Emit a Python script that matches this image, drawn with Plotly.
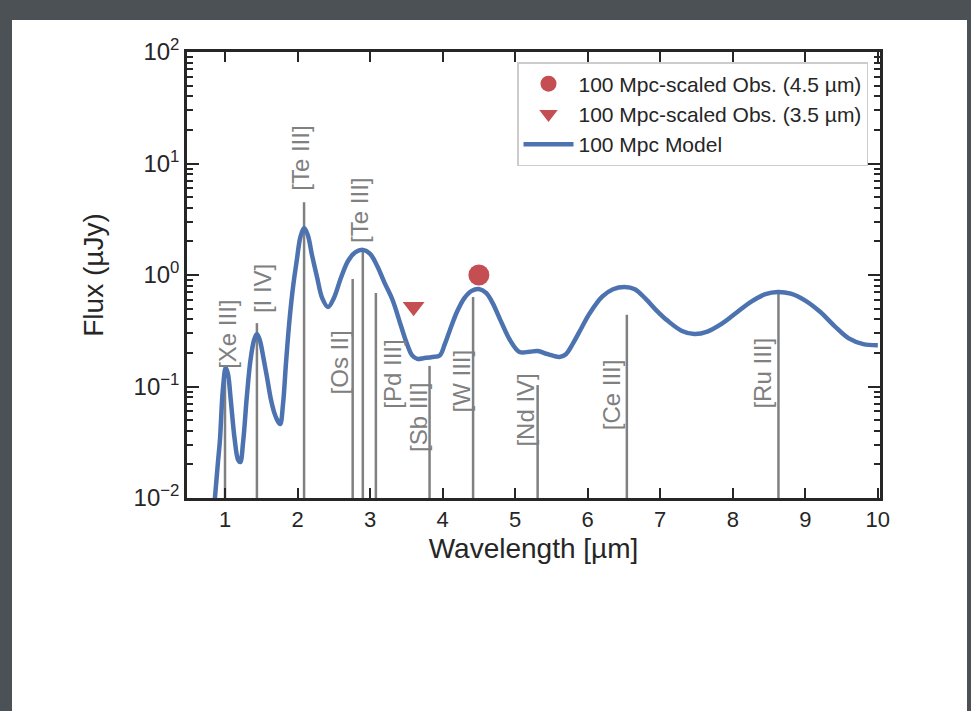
import numpy as np
import plotly.graph_objects as go

# ---------------- data ----------------
model_wl = [0.86, 0.90, 0.93, 0.97, 1.01, 1.04, 1.08, 1.13, 1.18, 1.21, 1.25,
            1.30, 1.35, 1.40, 1.44, 1.48, 1.53, 1.58, 1.63, 1.68, 1.72, 1.76,
            1.80, 1.84, 1.89, 1.94, 1.99, 2.04, 2.09, 2.14, 2.20, 2.27, 2.34,
            2.42, 2.50, 2.60, 2.70, 2.80, 2.90, 3.00, 3.10, 3.20, 3.31, 3.42,
            3.50, 3.58, 3.65, 3.75, 3.86, 3.96, 4.03, 4.10, 4.20, 4.30, 4.40,
            4.50, 4.60, 4.69, 4.80, 4.93, 5.06, 5.20, 5.31, 5.45, 5.61, 5.70,
            5.80, 5.92, 6.03, 6.20, 6.35, 6.51, 6.65, 6.80, 6.95, 7.10, 7.30,
            7.47, 7.65, 7.85, 8.05, 8.25, 8.45, 8.62, 8.80, 9.00, 9.20, 9.40,
            9.60, 9.80, 10.0]
model_flux = [0.0098, 0.02, 0.033, 0.093, 0.147, 0.13, 0.075, 0.035, 0.022, 0.021,
              0.032, 0.08, 0.17, 0.26, 0.296, 0.26, 0.18, 0.12, 0.078, 0.058,
              0.05, 0.046, 0.07, 0.16, 0.4, 0.8, 1.36, 2.2, 2.64, 2.3, 1.5, 0.95,
              0.62, 0.516, 0.62, 0.95, 1.35, 1.6, 1.68, 1.55, 1.2, 0.85, 0.597,
              0.36, 0.25, 0.19, 0.177, 0.18, 0.184, 0.19, 0.24, 0.32, 0.47, 0.62,
              0.72, 0.748, 0.69, 0.56, 0.39, 0.26, 0.204, 0.205, 0.208, 0.195,
              0.184, 0.195, 0.245, 0.34, 0.456, 0.64, 0.745, 0.78, 0.745, 0.61,
              0.48, 0.39, 0.315, 0.296, 0.311, 0.366, 0.459, 0.575, 0.673, 0.705,
              0.68, 0.59, 0.47, 0.35, 0.27, 0.24, 0.235]

obs45_wl = [4.5]
obs45_flux = [1.0]
obs35_wl = [3.6]
obs35_flux = [0.52]

line_names = ["[Xe III]", "[I IV]", "[Te III]", "[Os II]", "[Te III]", "[Pd III]",
              "[Sb III]", "[W III]", "[Nd IV]", "[Ce III]", "[Ru III]"]
line_wl = [1.00, 1.44, 2.09, 2.76, 2.90, 3.08, 3.82, 4.42, 5.31, 6.54, 8.63]
line_top = [0.15, 0.37, 4.5, 0.92, 1.68, 0.69, 0.153, 0.635, 0.103, 0.44, 0.69]
label_x = [1.04, 1.51, 2.03, 2.58, 2.86, 3.31, 3.66, 4.26, 5.13, 6.34, 8.41]
label_y = [0.296, 0.748, 11.2, 0.163, 3.83, 0.129, 0.0532, 0.112, 0.0615, 0.084, 0.132]

y_tickvals = [0.01, 0.1, 1, 10, 100]
y_ticktext = ["10<sup>\u22122</sup>", "10<sup>\u22121</sup>", "10<sup>0</sup>",
              "10<sup>1</sup>", "10<sup>2</sup>"]
x_tickvals = [1, 2, 3, 4, 5, 6, 7, 8, 9, 10]

# ---------------- styles ----------------
FONT = "Liberation Sans, Arial, Helvetica, sans-serif"
TXT = "#262626"
BLUE = "#4c72b0"
RED = "#c44e52"
GRAY = "#808080"
FRAME = "#4c5156"

W, H = 971, 711
L, R, T, B = 187, 91, 52, 213
pw, ph = W - L - R, H - T - B

fig = go.Figure()

# vertical emission-line markers
vx, vy = [], []
for xw, yt in zip(line_wl, line_top):
    vx += [xw, xw, None]
    vy += [0.01, yt, None]
fig.add_trace(go.Scatter(x=vx, y=vy, mode="lines",
                         line=dict(color=GRAY, width=2.5),
                         showlegend=False, hoverinfo="skip"))

fig.add_trace(go.Scatter(x=model_wl, y=model_flux, mode="lines",
                         name="100 Mpc Model", legendrank=3,
                         line=dict(color=BLUE, width=4.5, shape="spline", smoothing=1.0),
                         legendgroup="c"))
fig.add_trace(go.Scatter(x=obs45_wl, y=obs45_flux, mode="markers",
                         name="100 Mpc-scaled Obs. (4.5 \u00b5m)", legendrank=1,
                         marker=dict(symbol="circle", size=21, color=RED),
                         legendgroup="a"))
fig.add_trace(go.Scatter(x=obs35_wl, y=obs35_flux, mode="markers",
                         name="100 Mpc-scaled Obs. (3.5 \u00b5m)", legendrank=2,
                         marker=dict(symbol="triangle-down", size=19, color=RED),
                         legendgroup="b"))

for name, lx, ly in zip(line_names, label_x, label_y):
    fig.add_annotation(x=lx, y=np.log10(ly), text=name, textangle=-90,
                       showarrow=False, xanchor="center", yanchor="middle",
                       font=dict(family=FONT, size=24, color=GRAY))

# dark frame around the white page
fig.add_shape(type="rect", xref="paper", yref="paper", layer="below",
              x0=(12 - L) / pw, x1=(967 - L) / pw,
              y0=-1.0, y1=1 + (T - 20) / ph,
              fillcolor="white", line=dict(width=0))

fig.update_layout(
    width=W, height=H,
    margin=dict(l=L, r=R, t=T, b=B),
    paper_bgcolor=FRAME,
    plot_bgcolor="white",
    font=dict(family=FONT, color=TXT),
    legend=dict(
        x=(868 - L) / pw, xanchor="right",
        y=1 - (62 - T) / ph, yanchor="top",
        bgcolor="white", bordercolor="#cccccc", borderwidth=1.5,
        font=dict(family=FONT, size=21, color=TXT),
        tracegroupgap=9, traceorder="normal", itemwidth=50,
    ),
    showlegend=True,
)

fig.update_xaxes(
    range=[0.476, 10.03], tickvals=x_tickvals,
    ticks="inside", ticklen=10, tickwidth=2, tickcolor=TXT,
    showline=True, linecolor=TXT, linewidth=2.5, mirror="ticks",
    showgrid=False, zeroline=False,
    tickfont=dict(family=FONT, size=22, color=TXT),
    title=dict(text="Wavelength [\u00b5m]", font=dict(family=FONT, size=28, color=TXT), standoff=8),
)
fig.update_yaxes(
    type="log", range=[-2, 2], tickvals=y_tickvals, ticktext=y_ticktext,
    ticks="inside", ticklen=12, tickwidth=2, tickcolor=TXT,
    minor=dict(ticks="inside", ticklen=6, tickwidth=1.5, tickcolor=TXT, dtick="D1", showgrid=False),
    showline=True, linecolor=TXT, linewidth=2.5, mirror="ticks",
    showgrid=False, zeroline=False,
    tickfont=dict(family=FONT, size=24, color=TXT),
    title=dict(text="Flux (\u00b5Jy)", font=dict(family=FONT, size=28, color=TXT), standoff=22),
)

fig.write_html(
    "out.html",
    config={"displayModeBar": False},
    post_script="document.body.style.margin='0';document.body.style.padding='0';"
                "document.body.style.overflow='hidden';"
                "document.body.style.background='" + FRAME + "';",
)
